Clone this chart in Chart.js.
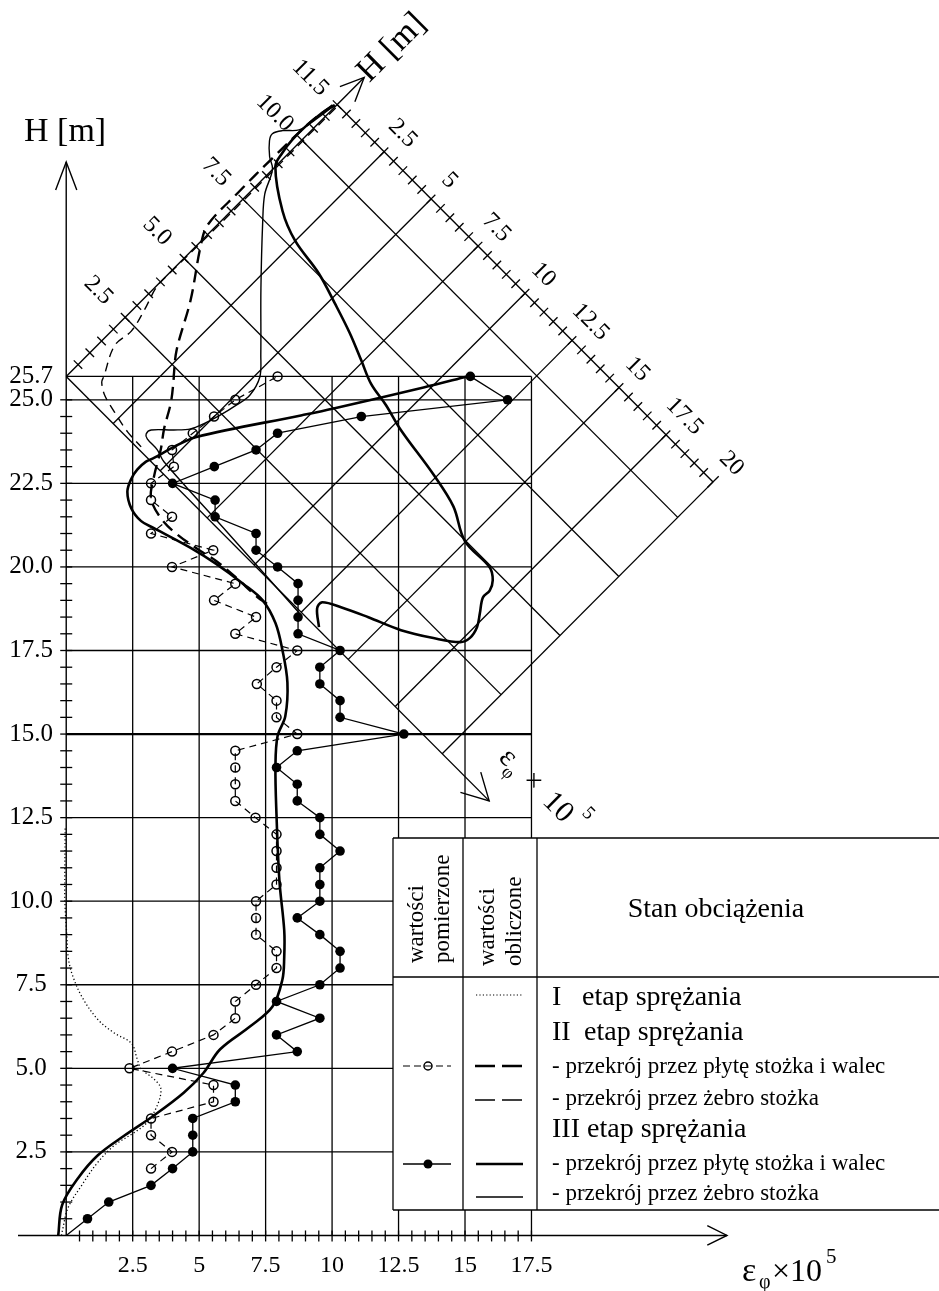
<!DOCTYPE html>
<html>
<head>
<meta charset="utf-8">
<script src="https://cdn.jsdelivr.net/npm/chart.js@4.4.0/dist/chart.umd.min.js"></script>
<style>
  html, body { margin: 0; padding: 0; background: #fff; }
  canvas { display: block; }
</style>
</head>
<body>
<canvas id="chart" width="939" height="1291"></canvas>
<script>
// ------------------------------------------------------------------
// Cylinder (walec): height H [m] and hoop strain eps_phi x 1e5
// ------------------------------------------------------------------
// measured, stage II (open circles)
const measII_H   = [2.0, 2.5, 3.0, 3.5, 4.0, 4.5, 5.0, 5.5, 6.0, 6.5, 7.0, 7.5, 8.0, 8.5, 9.0, 9.5, 10.0, 10.5, 11.0, 11.5, 12.0, 12.5, 13.0, 13.5, 14.0, 14.5, 15.0, 15.5, 16.0, 16.5, 17.0, 17.5, 18.0, 18.5, 19.0, 19.5, 20.0, 20.5, 21.0, 21.5, 22.0, 22.5, 23.0, 23.5, 24.0, 24.5, 25.0, 25.7];
const measII_eps = [3.19, 3.98, 3.19, 3.19, 5.54, 5.54, 2.38, 3.98, 5.54, 6.36, 6.36, 7.14, 7.91, 7.91, 7.14, 7.14, 7.14, 7.91, 7.91, 7.91, 7.91, 7.12, 6.36, 6.36, 6.36, 6.36, 8.69, 7.91, 7.91, 7.17, 7.91, 8.69, 6.36, 7.14, 5.56, 6.36, 3.98, 5.53, 3.19, 3.98, 3.19, 3.19, 4.05, 3.98, 4.76, 5.56, 6.36, 7.95];

// measured, stage III (filled dots); the line starts at the origin
const measIII_H   = [0.0, 0.5, 1.0, 1.5, 2.0, 2.5, 3.0, 3.5, 4.0, 4.5, 5.0, 5.5, 6.0, 6.5, 7.0, 7.5, 8.0, 8.5, 9.0, 9.5, 10.0, 10.5, 11.0, 11.5, 12.0, 12.5, 13.0, 13.5, 14.0, 14.5, 15.0, 15.5, 16.0, 16.5, 17.0, 17.5, 18.0, 18.5, 19.0, 19.5, 20.0, 20.5, 21.0, 21.5, 22.0, 22.5, 23.0, 23.5, 24.0, 24.5, 25.0, 25.7];
const measIII_eps = [0.0, 0.8, 1.6, 3.19, 4.0, 4.76, 4.76, 4.76, 6.36, 6.36, 4.0, 8.69, 7.91, 9.54, 7.91, 9.54, 10.3, 10.3, 9.54, 8.69, 9.54, 9.54, 9.54, 10.3, 9.54, 9.54, 8.69, 8.69, 7.91, 8.69, 12.7, 10.3, 10.3, 9.54, 9.54, 10.3, 8.72, 8.72, 8.72, 8.72, 7.95, 7.14, 7.14, 5.6, 5.6, 4.0, 5.57, 7.14, 7.95, 11.1, 16.6, 15.2];

// computed, stage I (dotted)
const calcI_H   = [0.00, 0.12, 0.83, 1.51, 2.19, 2.70, 3.08, 3.38, 3.88, 4.39, 4.68, 4.98, 5.28, 5.75, 6.05, 6.46, 7.14, 7.82, 8.30, 9.00, 10.00, 11.00, 12.20];
const calcI_eps = [-0.18, -0.15, 0.07, 0.59, 1.19, 1.82, 2.56, 3.04, 3.42, 3.56, 3.30, 2.82, 2.67, 2.45, 1.82, 1.19, 0.59, 0.22, 0.08, 0.02, -0.05, -0.05, -0.04];

// computed, stage II, plate + cylinder section (cylinder part)
const calcIIplate_H   = [18.90, 19.09, 19.68, 20.18, 20.48, 20.98, 21.46, 22.05, 22.70, 23.53, 24.13, 24.93, 25.70];
const calcIIplate_eps = [7.55, 7.20, 6.39, 5.64, 5.05, 4.16, 3.56, 3.19, 3.30, 3.56, 3.68, 3.94, 4.05];

// computed, stage III, plate + cylinder section (cylinder part)
const calcIIIplate_H   = [0.00, 0.92, 1.72, 2.40, 2.99, 3.59, 4.27, 4.86, 5.57, 6.25, 6.85, 7.65, 8.33, 9.13, 10.61, 12.57, 14.05, 14.94, 15.53, 16.54, 17.52, 18.32, 19.00, 19.50, 20.09, 20.57, 21.16, 21.37, 21.75, 22.25, 22.64, 22.91, 23.15, 23.26, 23.59, 23.89, 24.54, 24.75, 25.37, 25.70];
const calcIIIplate_eps = [-0.30, -0.15, 0.45, 1.19, 2.19, 3.30, 4.42, 5.16, 5.79, 6.91, 7.76, 8.13, 8.20, 8.20, 8.02, 7.91, 7.87, 7.95, 8.24, 8.32, 8.13, 7.87, 7.39, 6.65, 5.64, 4.68, 3.30, 2.82, 2.45, 2.30, 2.45, 2.67, 3.00, 3.30, 4.05, 4.90, 8.87, 10.10, 13.44, 15.08];

// ------------------------------------------------------------------
// Cone (stożek): height along the cone Hc [m] and eps_phi x 1e5,
// plotted in the frame turned by 45 degrees
// ------------------------------------------------------------------
const coneIIplate_H   = [2.28, 2.91, 4.25, 5.60, 6.20, 7.50, 9.00, 10.50, 11.40];
const coneIIplate_eps = [2.86, 2.23, 1.29, 0.13, -0.25, -0.30, -0.30, -0.25, -0.10];

const coneIIrib_H   = [11.40, 9.00, 6.50, 4.46, 3.83, 3.06, 2.35, 1.68, 0.80, 0.63, 0.42, 0.27, 0.13, 0.10];
const coneIIrib_eps = [0.05, 0.05, 0.05, 0.02, 0.03, 0.32, 0.53, 0.47, 1.00, 1.10, 1.52, 2.23, 3.10, 3.86];

const coneIIIplate_H   = [11.44, 11.00, 10.35, 9.80, 9.33, 8.88, 8.09, 7.73, 7.54, 7.25, 6.94, 6.60, 6.31, 6.18, 5.97, 5.72, 5.47, 4.98, 4.95, 4.74, 4.46, 4.17, 3.77, 3.42, 3.04, 2.74, 2.26, 1.74, 1.32, 0.96, 0.65, 0.42, 0.06];
const coneIIIplate_eps = [-0.05, -0.18, -0.26, -0.26, -0.18, 0.00, 1.37, 2.49, 3.99, 5.20, 6.38, 7.43, 8.32, 9.27, 10.32, 12.37, 13.74, 14.97, 16.33, 16.75, 16.94, 16.94, 17.28, 17.57, 17.67, 17.52, 16.70, 15.63, 14.42, 13.45, 12.79, 12.82, 13.37];

const coneIIIrib_H   = [11.44, 10.71, 10.16, 9.79, 9.51, 9.30, 8.97, 8.76, 8.07, 7.44, 6.00, 4.59, 4.09, 3.50, 2.99, 2.45, 1.91, 1.53, 1.15, 0.67, 0.48, 0.40, 0.38, 0.27, 0.12, -0.06];
const coneIIIrib_eps = [-0.05, -0.18, -0.34, -0.76, -0.95, -0.84, -0.42, 0.00, 0.45, 1.13, 2.84, 4.60, 5.17, 5.38, 5.28, 5.12, 4.91, 4.70, 4.28, 3.68, 3.65, 3.81, 4.36, 4.86, 8.50, 12.47];

// ------------------------------------------------------------------
// tick labels
// ------------------------------------------------------------------
const xTickLabels    = ['2.5', '5', '7.5', '10', '12.5', '15', '17.5'];
const yTickLabels    = ['2.5', '5.0', '7.5', '10.0', '12.5', '15.0', '17.5', '20.0', '22.5', '25.0', '25.7'];
const coneHLabels    = ['2.5', '5.0', '7.5', '10.0', '11.5'];
const coneEpsLabels  = ['2.5', '5', '7.5', '10', '12.5', '15', '17.5', '20'];

// ------------------------------------------------------------------
// page geometry
// ------------------------------------------------------------------
const W = 939, HGT = 1291;
const ORIGIN = { x: 61, y: 1241 };      // eps = 0, H = 0
const PX_EPS = 26.93;                   // px per unit of eps
const PX_M = 33.74;                     // px per metre
const H_TOP = 25.7;                     // cylinder top = cone frame origin
const CONE_H = 11.5, CONE_EPS = 20;
const R = PX_EPS / PX_M;
const S = Math.SQRT1_2;
const SERIF = '"Liberation Serif", "DejaVu Serif", serif';
const LEG = { left: 393, top: 838, head: 977, bottom: 1210, c1: 463, c2: 537, right: 945 };

// cone frame (Hc, eps) -> cylinder frame (eps, H)
function coneToMain(hc, ec) {
  return { x: (hc / R + ec) * S, y: H_TOP + (hc - R * ec) * S };
}
const zipMain = (H, E) => H.map((h, i) => ({ x: E[i], y: h }));
const zipCone = (H, E) => H.map((h, i) => coneToMain(h, E[i]));

function seg(ctx, a, b, w) {
  ctx.lineWidth = w;
  ctx.beginPath(); ctx.moveTo(a[0], a[1]); ctx.lineTo(b[0], b[1]); ctx.stroke();
}
function arrowHead(ctx, tip, ux, uy, len, halfAngle, w) {
  const back = Math.atan2(-uy, -ux);
  ctx.lineWidth = w;
  ctx.beginPath();
  ctx.moveTo(tip[0] + len * Math.cos(back + halfAngle), tip[1] + len * Math.sin(back + halfAngle));
  ctx.lineTo(tip[0], tip[1]);
  ctx.lineTo(tip[0] + len * Math.cos(back - halfAngle), tip[1] + len * Math.sin(back - halfAngle));
  ctx.stroke();
}
function txt(ctx, s, x, y, size, opt = {}) {
  ctx.save();
  ctx.translate(x, y);
  if (opt.rot) ctx.rotate(opt.rot);
  ctx.font = (opt.weight || '') + ' ' + size + 'px ' + SERIF;
  ctx.textAlign = opt.align || 'left';
  ctx.textBaseline = opt.base || 'alphabetic';
  ctx.fillStyle = '#000';
  ctx.fillText(s, 0, 0);
  ctx.restore();
}

const framePlugin = {
  id: 'frame',
  beforeDatasetsDraw(chart) {
    const { ctx } = chart;
    const sx = chart.scales.x, sy = chart.scales.y;
    const P = (x, y) => [sx.getPixelForValue(x), sy.getPixelForValue(y)];
    const C = (hc, ec) => { const m = coneToMain(hc, ec); return P(m.x, m.y); };
    const legLeft = sx.getValueForPixel(LEG.left);
    const legTopH = sy.getValueForPixel(LEG.top);
    const legBotH = sy.getValueForPixel(LEG.bottom);

    ctx.save();
    ctx.strokeStyle = '#000';
    ctx.lineCap = 'butt';

    // cylinder grid
    xTickLabels.map(parseFloat).forEach(v => {
      const bottom = sx.getPixelForValue(v) < LEG.left ? 0 : legTopH;
      seg(ctx, P(v, bottom), P(v, H_TOP), 1.3);
      if (bottom > 0) seg(ctx, P(v, legBotH), P(v, 0), 1.3);
    });
    yTickLabels.map(parseFloat).forEach(h => {
      const py = sy.getPixelForValue(h);
      const right = (py > LEG.top && py < LEG.bottom) ? legLeft : 17.5;
      seg(ctx, P(0, h), P(right, h), h === 15 ? 2.2 : 1.3);
    });

    // axes of the cylinder frame
    const yTip = sy.getValueForPixel(162);
    seg(ctx, P(0, 0), P(0, yTip), 1.4);
    arrowHead(ctx, P(0, yTip), 0, -1, 30, 0.36, 1.4);
    const xTipPx = 727;
    seg(ctx, [18, sy.getPixelForValue(0)], [xTipPx, sy.getPixelForValue(0)], 1.4);
    arrowHead(ctx, [xTipPx, sy.getPixelForValue(0)], 1, 0, 22, 0.46, 1.4);
    for (let h = 0.5; h <= 25.001; h += 0.5) {
      const p = P(0, h);
      seg(ctx, [p[0] - 6, p[1]], [p[0] + 6, p[1]], 1.3);
    }
    for (let e = 0.5; e <= 17.501; e += 0.5) {
      const p = P(e, 0);
      seg(ctx, [p[0], p[1] - 5], [p[0], p[1] + 6], 1.3);
    }

    // cone frame grid
    [2.5, 5, 7.5, 10].forEach(hc => seg(ctx, C(hc, 0), C(hc, CONE_EPS), 1.3));
    for (let ec = 2.5; ec < CONE_EPS; ec += 2.5) seg(ctx, C(0, ec), C(CONE_H, ec), 1.3);
    seg(ctx, C(0, CONE_EPS), C(CONE_H, CONE_EPS), 1.3);
    seg(ctx, C(CONE_H, 0), C(CONE_H, CONE_EPS), 1.4);
    // cone axes
    const hTip = 12.65, eTip = 22.5;
    seg(ctx, C(0, 0), C(hTip, 0), 1.4);
    arrowHead(ctx, C(hTip, 0), S, -S, 26, 0.42, 1.4);
    seg(ctx, C(0, 0), C(0, eTip), 1.4);
    arrowHead(ctx, C(0, eTip), S, S, 30, 0.5, 1.4);
    // ticks on the cone height axis and on the top edge
    for (let hc = 0.5; hc <= CONE_H + 0.001; hc += 0.5) {
      const p = C(hc, 0);
      seg(ctx, [p[0] - 6 * S, p[1] - 6 * S], [p[0] + 6 * S, p[1] + 6 * S], 1.3);
    }
    for (let ec = 0.5; ec <= CONE_EPS + 0.001; ec += 0.5) {
      const p = C(CONE_H, ec), L = ec >= CONE_EPS ? 8 : 6;
      seg(ctx, [p[0] - L * S, p[1] + L * S], [p[0] + L * S, p[1] - L * S], 1.3);
    }
    ctx.restore();
  },

  afterDatasetsDraw(chart) {
    const { ctx } = chart;
    const sx = chart.scales.x, sy = chart.scales.y;
    const P = (x, y) => [sx.getPixelForValue(x), sy.getPixelForValue(y)];
    const C = (hc, ec) => { const m = coneToMain(hc, ec); return P(m.x, m.y); };

    // tick labels of the cylinder frame
    yTickLabels.forEach(s => {
      const p = P(0, parseFloat(s));
      txt(ctx, s, 31, p[1], 25, { align: 'center', base: 'middle' });
    });
    xTickLabels.forEach(s => {
      const p = P(parseFloat(s), 0);
      txt(ctx, s, p[0], p[1] + 30, 24, { align: 'center', base: 'middle' });
    });
    txt(ctx, 'H [m]', 24, 141, 34);
    // eps_phi x 10^5 under the horizontal axis
    txt(ctx, 'ε', 742, 1281, 34);
    txt(ctx, 'φ', 759, 1288, 20);
    txt(ctx, '×10', 772, 1281, 32);
    txt(ctx, '5', 826, 1263, 21);

    // tick labels of the cone frame
    coneHLabels.forEach(s => {
      const p = C(parseFloat(s), 0);
      txt(ctx, s, p[0] - 38 * S, p[1] - 38 * S, 24, { align: 'center', base: 'middle', rot: Math.PI / 4 });
    });
    coneEpsLabels.forEach(s => {
      const p = C(CONE_H, parseFloat(s));
      txt(ctx, s, p[0] + 26 * S, p[1] - 26 * S, 24, { align: 'center', base: 'middle', rot: Math.PI / 4 });
    });
    txt(ctx, 'H [m]', 392, 48, 34, { align: 'center', base: 'middle', rot: -Math.PI / 4 });
    // eps_phi x 10^5 along the cone strain axis
    ctx.save();
    ctx.translate(497, 758);
    ctx.rotate(Math.PI / 4);
    txt(ctx, 'ε', 1, 0, 30);
    txt(ctx, 'φ', 13, 8, 18);
    txt(ctx, '×', 34, -1, 28);
    txt(ctx, '10', 63, 0, 30);
    txt(ctx, '5', 99, -20, 19);
    ctx.restore();

    // legend table
    ctx.save();
    ctx.strokeStyle = '#000';
    const L = LEG;
    seg(ctx, [L.left, L.top], [L.right, L.top], 1.3);
    seg(ctx, [L.left, L.head], [L.right, L.head], 1.3);
    seg(ctx, [L.left, L.bottom], [L.right, L.bottom], 1.3);
    seg(ctx, [L.left, L.top], [L.left, L.bottom], 1.3);
    seg(ctx, [L.c1, L.top], [L.c1, L.bottom], 1.3);
    seg(ctx, [L.c2, L.top], [L.c2, L.bottom], 1.3);
    ctx.restore();

    txt(ctx, 'wartości', 417, 963, 23, { rot: -Math.PI / 2, base: 'middle' });
    txt(ctx, 'pomierzone', 443, 963, 23, { rot: -Math.PI / 2, base: 'middle' });
    txt(ctx, 'wartości', 488, 966, 23, { rot: -Math.PI / 2, base: 'middle' });
    txt(ctx, 'obliczone', 515, 966, 23, { rot: -Math.PI / 2, base: 'middle' });
    txt(ctx, 'Stan obciążenia', 716, 917, 28, { align: 'center' });

    txt(ctx, 'I', 552, 1005, 28);
    txt(ctx, 'etap sprężania', 582, 1005, 28);
    txt(ctx, 'II', 552, 1040, 28);
    txt(ctx, 'etap sprężania', 584, 1040, 28);
    txt(ctx, '- przekrój przez płytę stożka i walec', 552, 1073, 23);
    txt(ctx, '- przekrój przez żebro stożka', 552, 1105, 23);
    txt(ctx, 'III', 552, 1137, 28);
    txt(ctx, 'etap sprężania', 587, 1137, 28);
    txt(ctx, '- przekrój przez płytę stożka i walec', 552, 1170, 23);
    txt(ctx, '- przekrój przez żebro stożka', 552, 1200, 23);

    // legend keys
    ctx.save();
    ctx.strokeStyle = '#000';
    ctx.fillStyle = '#000';
    const key = (x1, x2, y, w, dash) => { ctx.setLineDash(dash); seg(ctx, [x1, y], [x2, y], w); ctx.setLineDash([]); };
    key(476, 523, 995, 1.2, [1.2, 2.2]);
    key(403, 451, 1066, 1.2, [7, 4]);
    ctx.lineWidth = 1.5; ctx.beginPath(); ctx.arc(428, 1066, 4, 0, Math.PI * 2); ctx.stroke();
    key(475, 523, 1066, 2.6, [20, 7]);
    key(475, 523, 1100, 1.4, [20, 7]);
    key(403, 451, 1164, 1.3, []);
    ctx.beginPath(); ctx.arc(428, 1164, 4.5, 0, Math.PI * 2); ctx.fill();
    key(476, 523, 1164, 2.6, []);
    key(476, 523, 1197, 1.4, []);
    ctx.restore();
  }
};

const thick = 2.6, thin = 1.4;
const lineSet = (data, width, dash, tension) => ({
  data, showLine: true, borderColor: '#000', borderWidth: width, borderDash: dash,
  tension: tension, pointRadius: 0, pointHoverRadius: 0, fill: false
});

const datasets = [
  lineSet(zipMain(calcI_H, calcI_eps), 1.3, [1.2, 2.4], 0.35),
  lineSet(zipMain(calcIIplate_H, calcIIplate_eps).concat(zipCone(coneIIplate_H, coneIIplate_eps)), 2.4, [13, 7], 0.35),
  lineSet(zipCone(coneIIrib_H, coneIIrib_eps), thin, [9, 6], 0.35),
  lineSet(zipMain(calcIIIplate_H, calcIIIplate_eps), thick, [], 0.35),
  lineSet(zipCone(coneIIIplate_H, coneIIIplate_eps), thick, [], 0.35),
  lineSet(zipCone(coneIIIrib_H, coneIIIrib_eps), thin, [], 0.35),
  {
    data: zipMain(measII_H, measII_eps), showLine: true, borderColor: '#000', borderWidth: 1.2,
    borderDash: [7, 5], tension: 0, pointStyle: 'circle', pointRadius: 4.5, pointBorderWidth: 1.5,
    pointBorderColor: '#000', pointBackgroundColor: 'rgba(255,255,255,0)', pointHoverRadius: 4.5
  },
  {
    data: zipMain(measIII_H, measIII_eps), showLine: true, borderColor: '#000', borderWidth: 1.3,
    tension: 0, pointStyle: 'circle', pointRadius: c => (c.dataIndex === 0 ? 0 : 4.8), pointBorderWidth: 0,
    pointBackgroundColor: '#000', pointBorderColor: '#000', pointHoverRadius: 4.8
  }
];

new Chart(document.getElementById('chart'), {
  type: 'scatter',
  data: { datasets },
  options: {
    responsive: false,
    animation: false,
    devicePixelRatio: 1,
    layout: { padding: 0 },
    plugins: { legend: { display: false }, tooltip: { enabled: false }, title: { display: false } },
    events: [],
    scales: {
      x: { type: 'linear', display: false, min: -ORIGIN.x / PX_EPS, max: (W - ORIGIN.x) / PX_EPS },
      y: { type: 'linear', display: false, min: -(HGT - ORIGIN.y) / PX_M, max: ORIGIN.y / PX_M }
    }
  },
  plugins: [framePlugin]
});
</script>
</body>
</html>
